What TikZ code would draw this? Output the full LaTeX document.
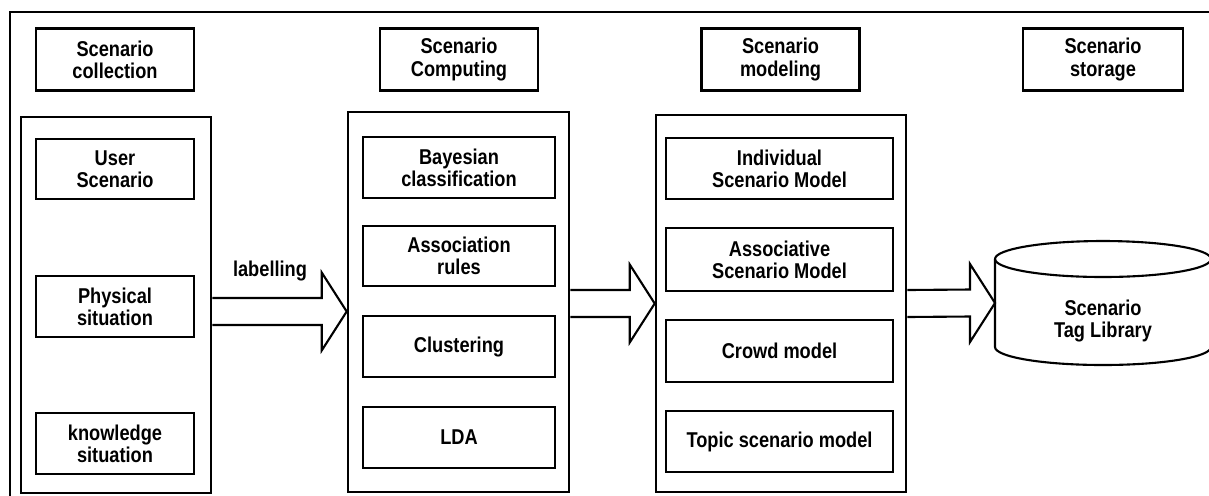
\documentclass[tikz,border=0pt]{standalone}
\usepackage{fontspec}
\setmainfont[FakeStretch=0.85]{Liberation Sans}
\usetikzlibrary{positioning}
\usetikzlibrary{calc}

% block arrow between two points
\newcommand{\fatarrow}[2]{%
  \draw[fat] ($(#1)+(0,0.27cm)$) -- ($(#2)+(-0.5cm,0.27cm)$)
     -- ($(#2)+(-0.5cm,0.78cm)$) -- (#2) -- ($(#2)+(-0.5cm,-0.78cm)$)
     -- ($(#2)+(-0.5cm,-0.27cm)$) -- ($(#1)+(0,-0.27cm)$);}

\begin{document}
\begin{tikzpicture}[
            x = 0.02cm, y = -0.02cm, % one unit per pixel
            line width = 1.5pt, % box line style
            font = \fontsize{12.2}{12.6}\selectfont\bfseries
        ]

        \tikzstyle{box}=[
            draw,
            align = center,
            inner sep = 0pt
        ]
        \tikzstyle{panel}=[draw, inner sep = 0pt]
        \tikzstyle{fat}=[line width = 1.2pt, line join = miter]

        \useasboundingbox (0,0) rectangle (1209,495);
        \clip (0,0) rectangle (1209,495);

        % frame
        \draw (10,500) -- (10,12) -- (1215,12);

        % stage titles
        \node[box, minimum width=3.16cm, minimum height=1.24cm] (T1) at (115,59.5) {Scenario\\collection};
        \node[box, minimum width=3.16cm, minimum height=1.24cm] (T2) at (459,59.5) {Scenario\\Computing};
        \node[box, minimum width=3.16cm, minimum height=1.24cm] (T3) at (780.5,59.5) {Scenario\\modeling};
        \node[box, minimum width=3.2cm, minimum height=1.24cm] (T4) at (1103,59.5) {Scenario\\storage};

        % panels
        \node[panel, minimum width=3.8cm, minimum height=7.52cm] (C1) at (116,305) {};
        \node[panel, minimum width=4.42cm, minimum height=7.6cm] (C2) at (458.5,302) {};
        \node[panel, minimum width=5cm, minimum height=7.54cm] (C3) at (781,303.5) {};

        % collection
        \node[box, minimum width=3.16cm, minimum height=1.2cm] (U) at (115,169) {User\\Scenario};
        \node[box, minimum width=3.16cm, minimum height=1.22cm] (P) at (115,306.5) {Physical\\situation};
        \node[box, minimum width=3.16cm, minimum height=1.22cm] (K) at (115,443.5) {knowledge\\situation};

        % computing
        \node[box, minimum width=3.84cm, minimum height=1.22cm] (B) at (459,167.5) {Bayesian\\classification};
        \node[box, minimum width=3.84cm, minimum height=1.2cm] (A) at (459,256) {Association\\rules};
        \node[box, minimum width=3.84cm, minimum height=1.22cm] (CL) at (459,346.5) {Clustering};
        \node[box, minimum width=3.84cm, minimum height=1.22cm] (LDA) at (459,437.5) {LDA};

        % modeling
        \node[box, minimum width=4.54cm, minimum height=1.22cm] (M1) at (779.5,168.5) {Individual\\Scenario Model};
        \node[box, minimum width=4.54cm, minimum height=1.26cm] (M2) at (779.5,259.5) {Associative\\Scenario Model};
        \node[box, minimum width=4.54cm, minimum height=1.24cm] (M3) at (779.5,351) {Crowd model};
        \node[box, minimum width=4.54cm, minimum height=1.22cm] (M4) at (779.5,441.5) {Topic scenario model};

        % storage
        \draw[fat] (995,259) -- (995,347)
            arc[start angle=180, end angle=360, x radius=2.16cm, y radius=0.36cm] -- (1211,259);
        \draw[fat] (1103,259) ellipse [x radius=2.16cm, y radius=0.36cm];
        \node[align=center] (S) at (1103,321) {Scenario\\Tag Library};
        \coordinate (Sw) at (995,303);

        % arrows
        \coordinate (a1) at (C1.east |- 0,311.5);
        \coordinate (b1) at (C2.west |- 0,311.5);
        \coordinate (a2) at (C2.east |- 0,303.5);
        \coordinate (b2) at (C3.west |- 0,303.5);
        \coordinate (a3) at (C3.east |- 0,303.5);

        \fatarrow{a1}{b1}
        \fatarrow{a2}{b2}
        \fatarrow{a3}{Sw}

        \node (lab) at (270,271) {labelling};

\end{tikzpicture}
\end{document}
